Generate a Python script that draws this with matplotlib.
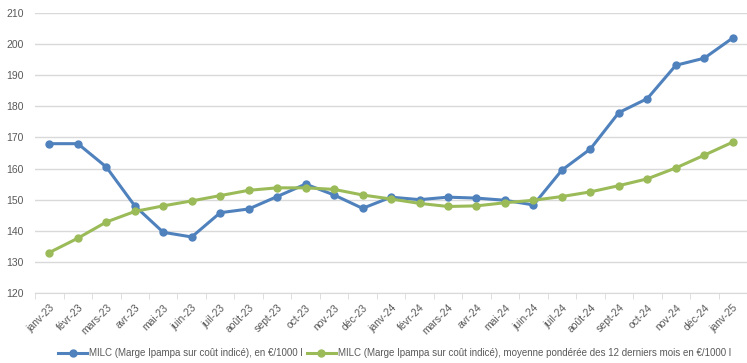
import matplotlib.pyplot as plt
import numpy as np

months = ["janv-23", "févr-23", "mars-23", "avr-23", "mai-23", "juin-23", "juil-23",
          "août-23", "sept-23", "oct-23", "nov-23", "déc-23", "janv-24", "févr-24",
          "mars-24", "avr-24", "mai-24", "juin-24", "juil-24", "août-24", "sept-24",
          "oct-24", "nov-24", "déc-24", "janv-25"]
milc = [168, 168, 160.5, 148, 139.5, 138, 145.8, 147, 151, 155, 151.5, 147.2,
        150.8, 150, 150.8, 150.5, 149.8, 148.3, 159.5, 166.3, 178, 182.5, 193.2,
        195.5, 202]
milc_avg = [133, 137.6, 142.8, 146.2, 148, 149.6, 151.3, 153, 153.8, 153.8, 153.3,
            151.5, 150.2, 148.8, 147.8, 148, 149, 149.8, 151, 152.5, 154.5, 156.7,
            160.2, 164.3, 168.5]
labels = ["MILC (Marge Ipampa sur coût indicé), en €/1000 l",
          "MILC (Marge Ipampa sur coût indicé), moyenne pondérée des 12 derniers mois en €/1000 l"]

plt.rcParams['font.family'] = ['Liberation Sans', 'DejaVu Sans']

fig = plt.figure(figsize=(7.47, 3.63), dpi=100)
ax = fig.add_axes([0.047, 0.193, 0.953, 0.771])

x = np.arange(len(months))
ax.plot(x, milc, color='#4F81BD', lw=2.2, marker='o', ms=5, label=labels[0], zorder=3)
ax.plot(x, milc_avg, color='#9BBB59', lw=2.2, marker='o', ms=5, label=labels[1], zorder=3)

ax.set_xlim(-0.5, len(months) - 0.5)
ax.set_ylim(120, 210)
ax.set_yticks(range(120, 211, 10))
ax.yaxis.grid(True, color='#D9D9D9', lw=1)
ax.set_axisbelow(True)
for s in ['top', 'right', 'left']:
    ax.spines[s].set_visible(False)
ax.spines['bottom'].set_color('#D9D9D9')

ax.set_xticks(x)
ax.set_xticklabels(months, rotation=45, ha='right', rotation_mode='anchor')
ax.set_xticks(np.arange(-0.5, len(months), 1), minor=True)
ax.tick_params(axis='x', which='major', length=0, pad=7, labelsize=7.5, labelcolor='#595959')
ax.tick_params(axis='x', which='minor', length=4, color='#D9D9D9')
ax.tick_params(axis='y', length=0, labelsize=7.5, labelcolor='#595959', pad=8)

ax.legend(loc='center', bbox_to_anchor=(0.505, -0.215), ncol=2, frameon=False,
          fontsize=7, handlelength=3, columnspacing=0.4, handletextpad=0.2,
          labelcolor='#595959')

fig.savefig('out.png', dpi=100)
